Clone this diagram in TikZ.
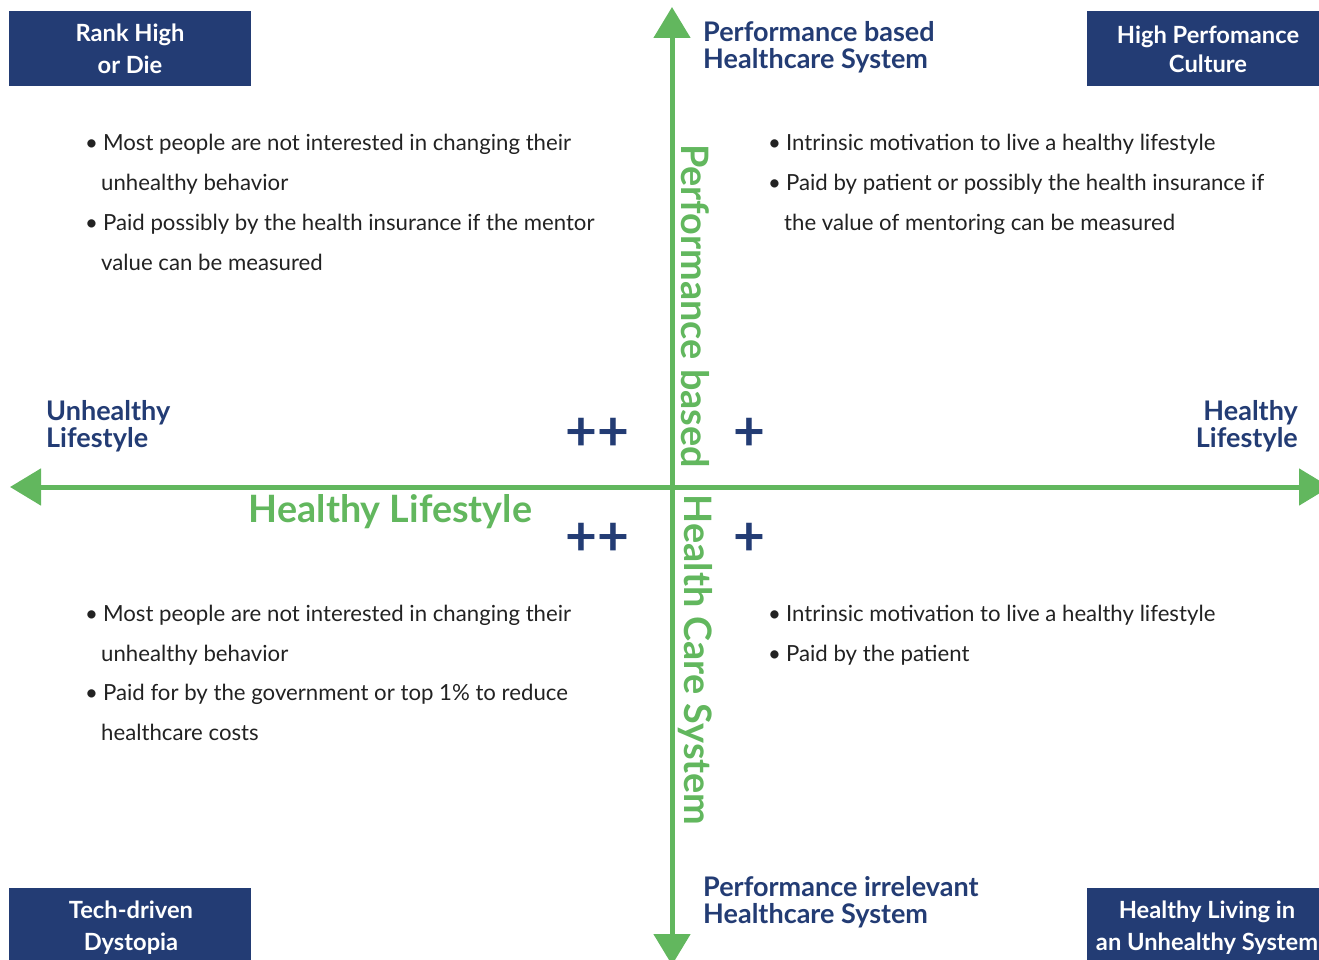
\documentclass[tikz,border=0pt]{standalone}
\usepackage{fontspec}
\setmainfont{Lato}
\usetikzlibrary{arrows.meta}
\definecolor{navy}{HTML}{233C74}
\definecolor{grn}{HTML}{62B75E}
\definecolor{txt}{HTML}{222222}
\begin{document}
\begin{tikzpicture}[x=1pt,y=-1pt,
  box/.style={fill=navy,text=white,font=\fontsize{23.7}{32}\selectfont\bfseries,align=center,inner sep=0pt,minimum width=242pt,minimum height=75pt},
  boxtext/.style={text=white,font=\fontsize{23.7}{32}\selectfont\bfseries,align=center,inner sep=0pt},
  corner/.style={text=navy,font=\fontsize{27}{27}\selectfont\bfseries,inner sep=0pt},
  bul/.style={text=txt,font=\fontsize{22.2}{24}\selectfont,inner sep=0pt,anchor=base west},
  plus/.style={text=navy,font=\fontsize{55}{55}\selectfont\bfseries,inner sep=0pt},
  vlab/.style={text=grn,font=\fontsize{37.8}{38}\selectfont\bfseries,inner sep=0pt,rotate=-90},
  axis/.style={draw=grn,line width=5pt,{Triangle[length=31pt,width=36pt]}-{Triangle[length=31pt,width=36pt]}}]
\useasboundingbox (0,0) rectangle (1319,960);
% axes
\coordinate (L) at (10,487);
\coordinate (R) at (1330,487);
\coordinate (T) at (672,7);
\coordinate (B) at (672,965);
\draw[axis] (L) -- (R);
\draw[axis] (T) -- (B);
% corner boxes
\node[box] (tl) at (130,48.5) {Rank High\\or Die};
\node[box,minimum width=232pt] (tr) at (1203,48.5) {};
\node[boxtext,font=\fontsize{23.7}{29}\selectfont\bfseries] (trt) at (1208,49.5) {High Perfomance\\Culture};
\node[box,minimum height=76pt] (bl) at (130,926) {};
\node[boxtext] (blt) at (131,928) {Tech-driven\\Dystopia};
\node[box,minimum width=232pt,minimum height=76pt] (br) at (1203,926) {};
\node[boxtext] (brt) at (1207,928) {Healthy Living in\\an Unhealthy System};
% axis end labels
\node[corner,anchor=north west,align=left] (top) at (703,21) {Performance based\\Healthcare System};
\node[corner,anchor=north west,align=left] (bot) at (703,876) {Performance irrelevant\\Healthcare System};
\node[corner,anchor=north west,align=left] (left) at (46,400) {Unhealthy\\Lifestyle};
\node[corner,anchor=north east,align=right] (right) at (1298,400) {Healthy\\Lifestyle};
% vertical labels
\node[vlab] (v1) at (695,306) {Performance based};
\node[vlab] (v2) at (695,660) {Health Care System};
\node[text=grn,font=\fontsize{37.7}{38}\selectfont\bfseries,inner sep=0pt] (hl) at (390.5,512) {Healthy Lifestyle};
% plus signs
\node[plus] (p1) at (597,434) {++};
\node[plus] (p2) at (597,539) {++};
\node[plus] (p3) at (749,434) {+};
\node[plus] (p4) at (749,539) {+};
% bullets top left
\node[bul] (a1) at (85,151) {•\hspace{5pt}Most people are not interested in changing their};
\node[bul] (a2) at (101,191) {unhealthy behavior};
\node[bul] (a3) at (85,230) {•\hspace{5pt}Paid possibly by the health insurance if the mentor};
\node[bul] (a4) at (101,270) {value can be measured};
% bullets top right
\node[bul] (b1) at (768,151) {•\hspace{5pt}Intrinsic motivation to live a healthy lifestyle};
\node[bul] (b2) at (768,191) {•\hspace{5pt}Paid by patient or possibly the health insurance if};
\node[bul] (b3) at (784,230) {the value of mentoring can be measured};
% bullets bottom left
\node[bul] (c1) at (85,621) {•\hspace{5pt}Most people are not interested in changing their};
\node[bul] (c2) at (101,661) {unhealthy behavior};
\node[bul] (c3) at (85,700) {•\hspace{5pt}Paid for by the government or top 1\% to reduce};
\node[bul] (c4) at (101,740) {healthcare costs};
% bullets bottom right
\node[bul] (d1) at (768,621) {•\hspace{5pt}Intrinsic motivation to live a healthy lifestyle};
\node[bul] (d2) at (768,661) {•\hspace{5pt}Paid by the patient};
\end{tikzpicture}
\end{document}
